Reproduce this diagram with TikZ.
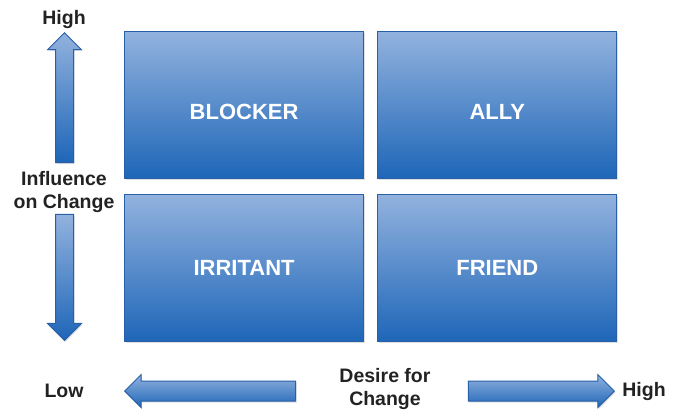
\documentclass[tikz,border=0pt]{standalone}
\usepackage{fontspec}
\setmainfont{Liberation Sans}
\usetikzlibrary{positioning,shapes.arrows,shadows}

\definecolor{quadtop}{RGB}{146,178,222}
\definecolor{quadbottom}{RGB}{30,102,184}
\definecolor{quadedge}{RGB}{40,96,168}
\definecolor{labelgray}{RGB}{34,34,34}

\begin{document}
\begin{tikzpicture}[x=1pt,y=-1pt,node distance=13pt,inner sep=0pt]
    \tikzset{
      quad/.style={
        rectangle,
        draw=quadedge,
        line width=1.2pt,
        top color=quadtop,
        bottom color=quadbottom,
        minimum width=239pt,
        minimum height=147pt,
        text=white,
        font=\fontsize{22}{24}\selectfont\bfseries,
        drop shadow={shadow xshift=1pt,shadow yshift=-1.5pt,opacity=0.25}
      },
      lowtext/.style={
        text height=28pt,
        text depth=0pt
      },
      axisarrow/.style={
        single arrow,
        draw=quadedge,
        line width=1pt,
        top color=quadtop,
        bottom color=quadbottom,
        single arrow tip angle=90,
        drop shadow={shadow xshift=1pt,shadow yshift=-1.5pt,opacity=0.25}
      },
      axislabel/.style={
        text=labelgray,
        align=center,
        font=\fontsize{19.5}{23}\selectfont\bfseries
      }
    }
    \useasboundingbox (0,0) rectangle (678,410);

    % Quadrants
    \node [quad, lowtext, anchor=north west] (blocker) at (124,31) {BLOCKER};
    \node [quad, lowtext] (ally) [right=of blocker]      {ALLY};
    \node [quad] (irritant) [below=15pt of blocker]      {IRRITANT};
    \node [quad] (friend)   [right=of irritant]          {FRIEND};

    % Influence axis
    \node [axisarrow, shape border rotate=90, minimum height=130pt,
           inner sep=8.5pt, single arrow head extend=8pt,
           anchor=tip] (inflhigh) at (64.5,32) {};
    \node [axisarrow, shape border rotate=270, minimum height=126pt,
           inner sep=8.5pt, single arrow head extend=8pt,
           anchor=tip] (infllow) at (64.5,341) {};
    \node [axislabel] (influence) at (64,191.5) {Influence\\on Change};
    \node [axislabel] (highy) at (64,19) {High};

    % Desire axis
    \node [axisarrow, shape border rotate=180, minimum height=171pt,
           inner sep=9.5pt, single arrow head extend=6.5pt,
           anchor=tip] (desirelow) at (124,391) {};
    \node [axisarrow, minimum height=146pt,
           inner sep=9.5pt, single arrow head extend=6.5pt,
           anchor=tip] (desirehigh) at (615,391) {};
    \node [axislabel] (desire) at (385,389) {Desire for\\Change};
    \node [axislabel] (lowx) at (64,391) {Low};
    \node [axislabel] (highx) at (644,391) {High};
\end{tikzpicture}
\end{document}
